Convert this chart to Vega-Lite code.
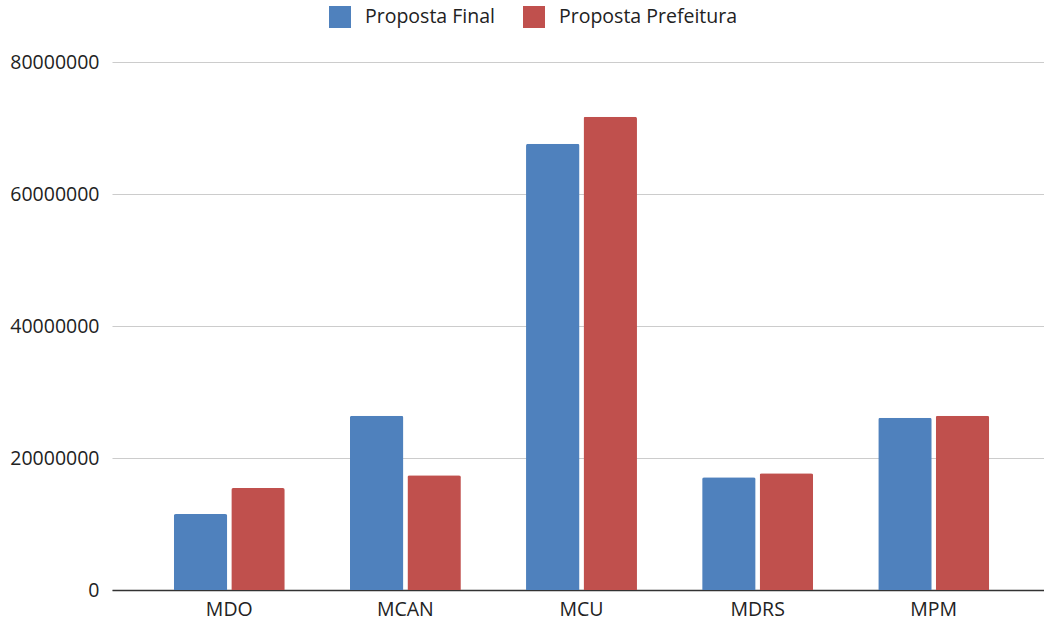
{
  "$schema": "https://vega.github.io/schema/vega-lite/v6.json",
  "autosize": {"type": "none"},
  "width": 932,
  "height": 528,
  "padding": {"left": 112, "top": 62, "right": 0, "bottom": 35},
  "background": "white",
  "data": {
    "values": [
      {"cat": "MDO", "serie": "Proposta Final", "valor": 11500000},
      {"cat": "MDO", "serie": "Proposta Prefeitura", "valor": 15450000},
      {"cat": "MCAN", "serie": "Proposta Final", "valor": 26400000},
      {"cat": "MCAN", "serie": "Proposta Prefeitura", "valor": 17400000},
      {"cat": "MCU", "serie": "Proposta Final", "valor": 67600000},
      {"cat": "MCU", "serie": "Proposta Prefeitura", "valor": 71700000},
      {"cat": "MDRS", "serie": "Proposta Final", "valor": 17100000},
      {"cat": "MDRS", "serie": "Proposta Prefeitura", "valor": 17700000},
      {"cat": "MPM", "serie": "Proposta Final", "valor": 26100000},
      {"cat": "MPM", "serie": "Proposta Prefeitura", "valor": 26400000}
    ]
  },
  "config": {
    "view": {"stroke": null},
    "font": "Open Sans"
  },
  "mark": {"type": "bar", "cornerRadiusTopLeft": 2, "cornerRadiusTopRight": 2},
  "encoding": {
    "x": {
      "field": "cat",
      "type": "nominal",
      "sort": ["MDO", "MCAN", "MCU", "MDRS", "MPM"],
      "scale": {"paddingInner": 0.37, "paddingOuter": 0.331, "align": 0.53},
      "axis": {
        "title": null,
        "labelAngle": 0,
        "labelFontSize": 19.5,
        "labelColor": "#222222",
        "labelPadding": 10,
        "ticks": false,
        "domainColor": "#333333",
        "domainWidth": 1.5,
        "grid": false
      }
    },
    "xOffset": {
      "field": "serie",
      "type": "nominal",
      "scale": {"paddingInner": 0.07}
    },
    "y": {
      "field": "valor",
      "type": "quantitative",
      "scale": {"domain": [0, 80000000], "nice": false},
      "axis": {
        "title": null,
        "values": [0, 20000000, 40000000, 60000000, 80000000],
        "format": "d",
        "labelFontSize": 19.5,
        "labelColor": "#222222",
        "labelPadding": 13,
        "ticks": false,
        "domain": false,
        "gridColor": "#cccccc",
        "gridWidth": 1.2
      }
    },
    "color": {
      "field": "serie",
      "type": "nominal",
      "scale": {"domain": ["Proposta Final", "Proposta Prefeitura"], "range": ["#4f81bd", "#c0504d"]},
      "legend": {
        "title": null,
        "orient": "none",
        "direction": "horizontal",
        "legendX": 217,
        "legendY": -56,
        "symbolType": "square",
        "symbolSize": 484,
        "symbolStrokeWidth": 0,
        "symbolOpacity": 1,
        "labelFontSize": 19.5,
        "labelLimit": 0,
        "labelColor": "#222222",
        "labelOffset": 14,
        "columnPadding": 28
      }
    }
  }
}
